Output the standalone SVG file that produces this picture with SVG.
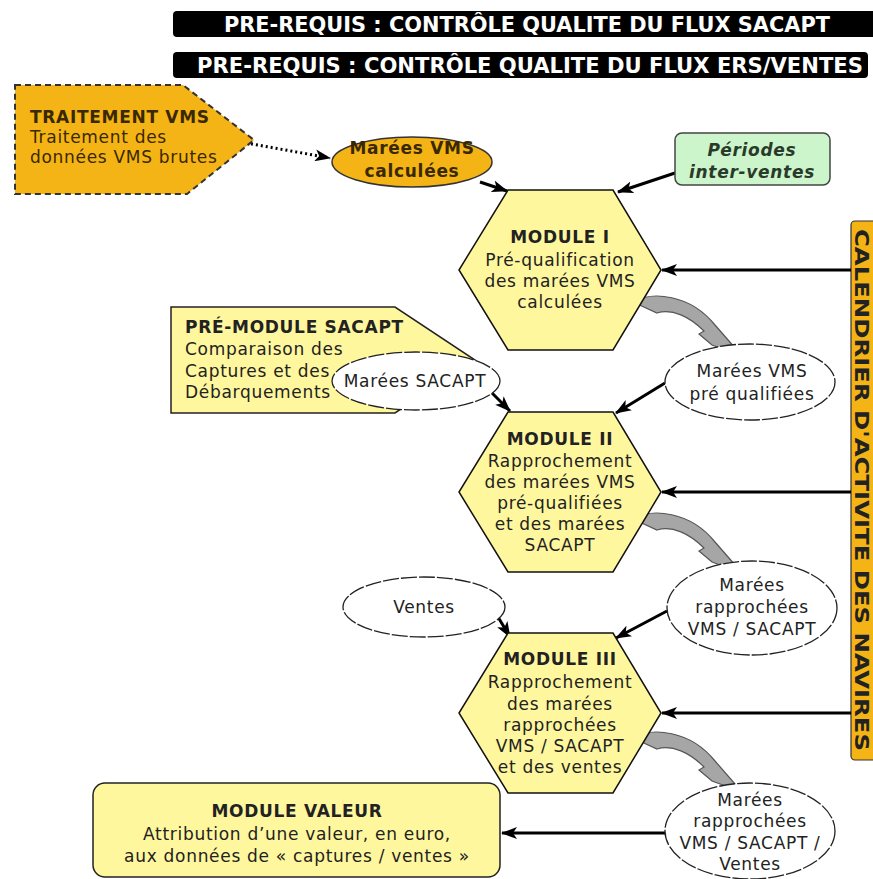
<svg xmlns="http://www.w3.org/2000/svg" width="873" height="879" viewBox="0 0 873 879">
<defs>
<style>
.t{font-family:"DejaVu Sans","Liberation Sans",sans-serif;font-size:17px;letter-spacing:0.7px;fill:#222;}
.b{font-weight:bold;}
.c{text-anchor:middle;}
.hex{fill:#FFF79E;stroke:#111;stroke-width:1.5;}
.ell{fill:#fff;stroke:#222;stroke-width:1.3;stroke-dasharray:16 2;}
.orange{fill:#F4B415;}
.ln{fill:none;stroke:#000;stroke-width:3;marker-end:url(#ah);}
.bar{fill:#000;}
.bt{font-family:"DejaVu Sans Condensed","DejaVu Sans",sans-serif;font-weight:bold;font-size:22px;fill:#fff;}
.grey{fill:#A6A6A6;stroke:#555;stroke-width:1.2;}
</style>
<marker id="ah" viewBox="0 0 16 12" refX="15" refY="6" markerWidth="16" markerHeight="12" orient="auto" markerUnits="userSpaceOnUse">
<path d="M0,0 L16,6 L0,12 L4,6 Z" fill="#000"/>
</marker>
<path id="garrow" d="M633 302 C652 291 690 294 715 325 L742 356 L712 345 L699 334 L704 331 C690 317 672 308 657 313 Z"/>
</defs>
<rect width="873" height="879" fill="#fff"/>

<g id="prereq-sacapt">
<rect class="bar" x="173" y="11" width="706" height="26" rx="4"/>
<text class="bt" x="224" y="32" textLength="606" lengthAdjust="spacingAndGlyphs">PRE-REQUIS : CONTRÔLE QUALITE DU FLUX SACAPT</text>
</g>
<g id="prereq-ers">
<rect class="bar" x="173" y="52" width="695" height="26" rx="4"/>
<text class="bt" x="197" y="73" textLength="666" lengthAdjust="spacingAndGlyphs">PRE-REQUIS : CONTRÔLE QUALITE DU FLUX ERS/VENTES</text>
</g>

<g id="calendrier">
<rect class="orange" x="851" y="221" width="34" height="539" rx="4" stroke="#333" stroke-width="1.2"/>
<text class="t b c" transform="translate(855,490) rotate(90)" textLength="522" lengthAdjust="spacingAndGlyphs" style="letter-spacing:0;font-size:19px">CALENDRIER D'ACTIVITE DES NAVIRES</text>
</g>

<g id="connectors">
<path class="ln" d="M176 141 L252 144 L330 158" style="stroke-dasharray:2 3"/>
<path class="ln" d="M480 182 L507 191"/>
<path class="ln" d="M690 168 L618 192"/>
<path class="ln" d="M851 270 L662 270"/>
<path class="ln" d="M851 492 L662 492"/>
<path class="ln" d="M851 713 L662 713"/>
<path class="ln" d="M492 393 L510 411"/>
<path class="ln" d="M665 383 L616 413"/>
<path class="ln" d="M498 617 L510 637"/>
<path class="ln" d="M667 611 L616 638"/>
<path class="ln" d="M665 833 L502 833"/>
<use href="#garrow" class="grey"/>
<use href="#garrow" class="grey" transform="translate(0,217)"/>
<use href="#garrow" class="grey" transform="translate(0,436)"/>
</g>

<g id="traitement-vms">
<path class="orange" d="M15 85 L183 85 L254 140 L187 194 L15 194 Z" stroke="#333" stroke-width="2" stroke-dasharray="6 4"/>
<text class="t b" x="30" y="123" style="fill:#3A2800">TRAITEMENT VMS</text>
<text class="t" x="30" y="143" style="fill:#3A2800">Traitement des</text>
<text class="t" x="30" y="163" style="fill:#3A2800">données VMS brutes</text>
</g>

<g id="marees-vms-calculees">
<ellipse class="orange" cx="412" cy="162" rx="80" ry="25" stroke="#333" stroke-width="1.5"/>
<text class="t b c" x="412" y="154" style="fill:#3A2800">Marées VMS</text>
<text class="t b c" x="412" y="177" style="fill:#3A2800">calculées</text>
</g>

<g id="periodes">
<rect x="675" y="133" width="155" height="52" rx="7" fill="#CCF5CC" stroke="#444" stroke-width="1.5"/>
<text class="t b c" x="752" y="156" style="font-style:italic;fill:#2A3A2A">Périodes</text>
<text class="t b c" x="752" y="178" style="font-style:italic;fill:#2A3A2A">inter-ventes</text>
</g>

<g id="module-1">
<polygon class="hex" points="508,190 613,190 661,270 613,350 508,350 459,270"/>
<text class="t b c" x="560" y="243">MODULE I</text>
<text class="t c" x="560" y="266">Pré-qualification</text>
<text class="t c" x="560" y="287">des marées VMS</text>
<text class="t c" x="560" y="308">calculées</text>
</g>

<g id="marees-vms-prequal">
<ellipse class="ell" cx="750" cy="382" rx="85" ry="38"/>
<text class="t c" x="752" y="377">Marées VMS</text>
<text class="t c" x="752" y="400">pré qualifiées</text>
</g>

<g id="pre-module-sacapt">
<path d="M171 307 L395 307 L475 360 L395 413 L171 413 Z" fill="#FFF79E" stroke="#222" stroke-width="1.5"/>
<text class="t b" x="185" y="333">PRÉ-MODULE SACAPT</text>
<text class="t" x="185" y="355">Comparaison des</text>
<text class="t" x="185" y="377">Captures et des</text>
<text class="t" x="185" y="398">Débarquements</text>
</g>

<g id="marees-sacapt">
<ellipse class="ell" cx="416" cy="381" rx="84" ry="29"/>
<text class="t c" x="415" y="387">Marées SACAPT</text>
</g>

<g id="module-2">
<polygon class="hex" points="508,412 613,412 661,492 613,572 508,572 459,492"/>
<text class="t b c" x="560" y="445">MODULE II</text>
<text class="t c" x="560" y="467">Rapprochement</text>
<text class="t c" x="560" y="488">des marées VMS</text>
<text class="t c" x="560" y="509">pré-qualifiées</text>
<text class="t c" x="560" y="530">et des marées</text>
<text class="t c" x="560" y="551">SACAPT</text>
</g>

<g id="marees-rapprochees">
<ellipse class="ell" cx="752" cy="608" rx="85" ry="47"/>
<text class="t c" x="752" y="591">Marées</text>
<text class="t c" x="752" y="613">rapprochées</text>
<text class="t c" x="752" y="635">VMS / SACAPT</text>
</g>

<g id="ventes">
<ellipse class="ell" cx="424" cy="607" rx="81" ry="30"/>
<text class="t c" x="424" y="613">Ventes</text>
</g>

<g id="module-3">
<polygon class="hex" points="508,633 613,633 661,713 613,793 508,793 459,713"/>
<text class="t b c" x="560" y="665">MODULE III</text>
<text class="t c" x="560" y="688">Rapprochement</text>
<text class="t c" x="560" y="710">des marées</text>
<text class="t c" x="560" y="731">rapprochées</text>
<text class="t c" x="560" y="752">VMS / SACAPT</text>
<text class="t c" x="560" y="773">et des ventes</text>
</g>

<g id="marees-rapprochees-ventes">
<ellipse class="ell" cx="750" cy="831" rx="85" ry="48"/>
<text class="t c" x="750" y="806">Marées</text>
<text class="t c" x="750" y="827">rapprochées</text>
<text class="t c" x="750" y="849">VMS / SACAPT /</text>
<text class="t c" x="750" y="870">Ventes</text>
</g>

<g id="module-valeur">
<rect x="93" y="783" width="407" height="94" rx="12" fill="#FFF79E" stroke="#222" stroke-width="1.5"/>
<text class="t b c" x="297" y="817">MODULE VALEUR</text>
<text class="t c" x="297" y="840">Attribution d’une valeur, en euro,</text>
<text class="t c" x="297" y="862">aux données de « captures / ventes »</text>
</g>
</svg>
